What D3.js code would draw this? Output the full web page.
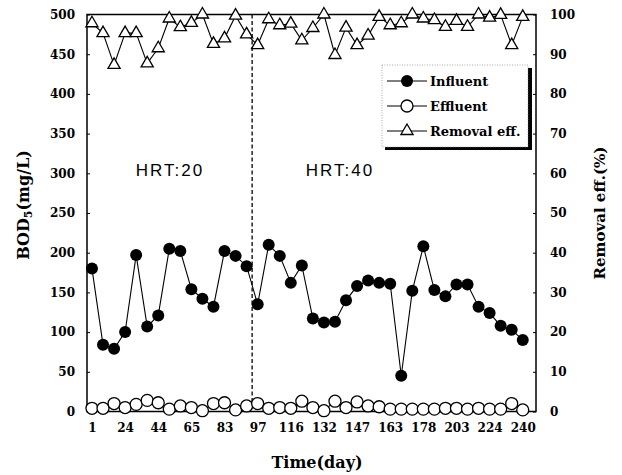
<!DOCTYPE html>
<html>
<head>
<meta charset="utf-8">
<script src="https://cdn.jsdelivr.net/npm/d3@7/dist/d3.min.js"></script>
<style>
  html, body { margin: 0; padding: 0; background: #fff; }
  svg { display: block; }
</style>
</head>
<body>
<svg id="chart" width="622" height="475"></svg>
<script>
// ---- data ----
const tickDays = [1, 24, 44, 65, 83, 97, 116, 132, 147, 163, 178, 203, 224, 240];
const influent = [180, 84, 79, 100, 197, 107, 121, 205, 202, 154, 142, 132, 202, 196, 183,
                  135, 210, 196, 162, 184, 117, 112, 113, 140, 158, 165, 162, 161, 45, 152,
                  208, 153, 145, 160, 160, 132, 124, 108, 103, 90];
const effluent = [4, 4, 10, 5, 9, 14, 11, 3, 7, 5, 1, 10, 11, 2, 7,
                  10, 4, 5, 4, 13, 5, 1, 13, 5, 12, 7, 6, 3, 3, 3,
                  3, 3, 4, 4, 3, 4, 3, 3, 10, 2];
const removal = [97.8, 95.3, 87.3, 95.3, 95.3, 87.7, 91.5, 99, 96.8, 97.9, 100, 92.6, 94, 99.7, 95,
                 92.3, 98.8, 97.3, 97.7, 93.5, 96.6, 100, 89.8, 96.7, 92.3, 94.7, 99.4, 97.3, 97.8, 100,
                 99, 98.6, 96.9, 98.4, 96.9, 100, 99.2, 99.9, 92.3, 99.4];
const leftTicks = [0, 50, 100, 150, 200, 250, 300, 350, 400, 450, 500];
const rightTicks = [0, 10, 20, 30, 40, 50, 60, 70, 80, 90, 100];
const phaseLabels = ["HRT:20", "HRT:40"];
const phaseBoundary = 14.5;          // between sample 15 and sample 16
const legendNames = ["Influent", "Effluent", "Removal eff."];

// ---- layout ----
const svg = d3.select("#chart");
const L = 87, R = 536, T = 14.5, B = 411.5;
const serif = "'DejaVu Serif', serif";

const x = d3.scaleLinear().domain([-0.45, 40.2]).range([L, R]);
const yL = d3.scaleLinear().domain([0, 500]).range([B, T]);
const yR = d3.scaleLinear().domain([0, 100]).range([B, T]);

// frame
svg.append("rect").attr("x", L).attr("y", T).attr("width", R - L).attr("height", B - T)
  .attr("fill", "none").attr("stroke", "#000").attr("stroke-width", 1.5);

// left axis
const gl = svg.append("g").attr("transform", `translate(${L},0)`)
  .call(d3.axisLeft(yL).tickValues(leftTicks).tickSize(-3).tickPadding(12));
// right axis
const gr = svg.append("g").attr("transform", `translate(${R},0)`)
  .call(d3.axisRight(yR).tickValues(rightTicks).tickSize(-3).tickPadding(14));
// bottom axis
const gb = svg.append("g").attr("transform", `translate(0,${B})`)
  .call(d3.axisBottom(x).tickValues(tickDays.map((d, i) => i * 3)).tickSize(0).tickPadding(12)
    .tickFormat(v => tickDays[v / 3]));
[gl, gr, gb].forEach(g => {
  g.select(".domain").remove();
  g.selectAll("text").attr("font-family", serif).attr("font-weight", "bold")
    .attr("font-size", 12).attr("fill", "#000");
  g.selectAll("line").attr("stroke", "#000");
});

// axis titles
svg.append("text").attr("x", 317).attr("y", 468).attr("text-anchor", "middle")
  .attr("font-family", serif).attr("font-weight", "bold").attr("font-size", 16).text("Time(day)");

const bod = svg.append("text").attr("transform", "translate(29,205) rotate(-90)")
  .attr("text-anchor", "middle").attr("font-family", serif).attr("font-weight", "bold").attr("font-size", 16);
bod.append("tspan").text("BOD");
bod.append("tspan").attr("font-size", 11).attr("dy", 3).text("5");
bod.append("tspan").attr("dy", -3).text("(mg/L)");

svg.append("text").attr("transform", "translate(605,213) rotate(-90)")
  .attr("text-anchor", "middle").attr("font-family", serif).attr("font-weight", "bold").attr("font-size", 15)
  .text("Removal eff.(%)");

// phase boundary
svg.append("line").attr("x1", x(phaseBoundary)).attr("x2", x(phaseBoundary))
  .attr("y1", T).attr("y2", B).attr("stroke", "#000").attr("stroke-width", 1.3)
  .attr("stroke-dasharray", "4,2.5");

// phase labels
const phaseX = [170, 340];
phaseLabels.forEach((t, i) => {
  svg.append("text").attr("x", phaseX[i]).attr("y", 176).attr("text-anchor", "middle")
    .attr("font-family", "'Liberation Sans', Arial, sans-serif").attr("font-size", 17)
    .attr("letter-spacing", 2).attr("fill", "#000").text(t);
});

const lineGen = (ys, arr) => d3.line().x((d, i) => x(i)).y(d => ys(d))(arr);

// effluent
svg.append("path").attr("d", lineGen(yL, effluent)).attr("fill", "none").attr("stroke", "#000").attr("stroke-width", 1.1);
svg.append("g").selectAll("circle").data(effluent).join("circle")
  .attr("cx", (d, i) => x(i)).attr("cy", d => yL(d)).attr("r", 6)
  .attr("fill", "#fff").attr("stroke", "#000").attr("stroke-width", 1.3);

// influent
svg.append("path").attr("d", lineGen(yL, influent)).attr("fill", "none").attr("stroke", "#000").attr("stroke-width", 1.1);
svg.append("g").selectAll("circle").data(influent).join("circle")
  .attr("cx", (d, i) => x(i)).attr("cy", d => yL(d)).attr("r", 6).attr("fill", "#000");

// removal efficiency
const tri = d3.symbol(d3.symbolTriangle).size(64);
svg.append("path").attr("d", lineGen(yR, removal)).attr("fill", "none").attr("stroke", "#000").attr("stroke-width", 1.1);
svg.append("g").selectAll("path").data(removal).join("path")
  .attr("transform", (d, i) => `translate(${x(i)},${yR(d)})`).attr("d", tri)
  .attr("fill", "#fff").attr("stroke", "#000").attr("stroke-width", 1.3);

// legend
const lg = svg.append("g");
lg.append("rect").attr("x", 528).attr("y", 68).attr("width", 4).attr("height", 82).attr("fill", "#000");
lg.append("rect").attr("x", 385).attr("y", 147).attr("width", 147).attr("height", 3).attr("fill", "#000");
lg.append("rect").attr("x", 382).attr("y", 65).attr("width", 146).attr("height", 82)
  .attr("fill", "#fff").attr("stroke", "#888").attr("stroke-width", 0.7).attr("stroke-dasharray", "1,1.5");
const rowsY = [81, 106, 131];
legendNames.forEach((name, i) => {
  const yy = rowsY[i];
  lg.append("line").attr("x1", 387).attr("x2", 427).attr("y1", yy).attr("y2", yy).attr("stroke", "#000").attr("stroke-width", 1.2);
  if (i === 0) lg.append("circle").attr("cx", 407).attr("cy", yy).attr("r", 6).attr("fill", "#000");
  if (i === 1) lg.append("circle").attr("cx", 407).attr("cy", yy).attr("r", 6).attr("fill", "#fff").attr("stroke", "#000").attr("stroke-width", 1.3);
  if (i === 2) lg.append("path").attr("transform", `translate(407,${yy})`).attr("d", tri).attr("fill", "#fff").attr("stroke", "#000").attr("stroke-width", 1.3);
  lg.append("text").attr("x", 430).attr("y", yy).attr("dy", "0.36em")
    .attr("font-family", serif).attr("font-weight", "bold").attr("font-size", 13).text(name);
});
</script>
</body>
</html>
